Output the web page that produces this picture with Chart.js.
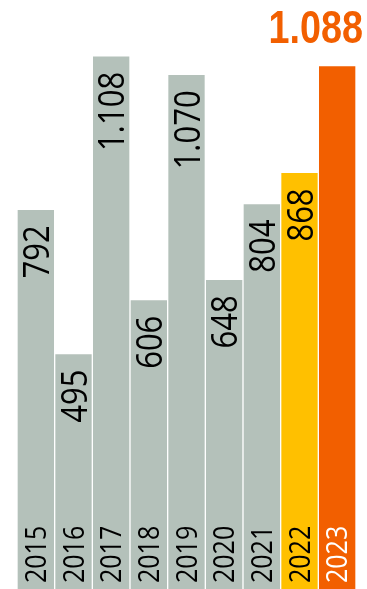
<!DOCTYPE html>
<html>
<head>
<meta charset="utf-8">
<script src="https://cdn.jsdelivr.net/npm/chart.js@4/dist/chart.umd.min.js"></script>
<style>
  html, body { margin: 0; padding: 0; background: #fff; }
  #wrap { width: 367px; height: 589px; overflow: hidden; position: relative; }
  canvas { display: block; }
</style>
</head>
<body>
<div id="wrap"><canvas id="c" width="367" height="594"></canvas></div>
<script>
const years = ["2015", "2016", "2017", "2018", "2019", "2020", "2021", "2022", "2023"];
const values = [792, 495, 1108, 606, 1070, 648, 804, 868, 1088];

const GRAY = "#B4C1BA";
const YELLOW = "#FFC000";
const ORANGE = "#F25F00";
const barColors = years.map((y, i) => i === years.length - 1 ? ORANGE : (i === years.length - 2 ? YELLOW : GRAY));

function fmt(v) {
  const s = String(v);
  return s.length > 3 ? s.slice(0, s.length - 3) + "." + s.slice(s.length - 3) : s;
}

const labelPlugin = {
  id: "labels",
  afterDatasetsDraw(chart) {
    const ctx = chart.ctx;
    const meta = chart.getDatasetMeta(0);
    const last = meta.data.length - 1;
    meta.data.forEach((bar, i) => {
      const cx = bar.x;
      // year label, rotated, at bottom inside the bar
      ctx.save();
      const ySize = 25, ySy = 1.15;
      const capY = 0.714 * ySize * ySy;
      ctx.translate(cx + capY / 2, 583);
      ctx.rotate(-Math.PI / 2);
      ctx.scale(1, ySy);
      ctx.font = ySize + "px 'Open Sans'";
      ctx.fillStyle = i === last ? "#FFFFFF" : "#000000";
      ctx.textAlign = "left";
      ctx.textBaseline = "alphabetic";
      ctx.fillText(years[i], 0, 0);
      ctx.restore();

      if (i === last) {
        // highlighted value above bar, horizontal bold
        ctx.save();
        const sx = 0.82;
        ctx.translate(bar.x + bar.width / 2 + 7, 43);
        ctx.scale(sx, 1);
        ctx.font = "bold 46px 'Liberation Sans'";
        ctx.fillStyle = ORANGE;
        ctx.textAlign = "right";
        ctx.textBaseline = "alphabetic";
        ctx.fillText(fmt(values[i]), 0, 0);
        ctx.restore();
      } else {
        // value label rotated, inside bar near top
        ctx.save();
        const vSize = 31, vSy = 1.2;
        const capV = 0.714 * vSize * vSy;
        ctx.translate(cx + capV / 2, bar.y + 16);
        ctx.rotate(-Math.PI / 2);
        ctx.scale(1, vSy);
        ctx.font = vSize + "px 'Open Sans'";
        ctx.fillStyle = "#000000";
        ctx.textAlign = "right";
        ctx.textBaseline = "alphabetic";
        ctx.fillText(fmt(values[i]), 0, 0);
        ctx.restore();
      }
    });
  }
};

new Chart(document.getElementById("c"), {
  type: "bar",
  data: {
    labels: years,
    datasets: [{
      data: values,
      backgroundColor: barColors,
      borderColor: "rgba(255,255,255,0.18)",
      borderWidth: 1,
      borderSkipped: "bottom",
      barPercentage: 1,
      categoryPercentage: 1
    }]
  },
  options: {
    responsive: false,
    animation: false,
    layout: { padding: { left: 17, right: 11, top: 0, bottom: 0 } },
    plugins: { legend: { display: false }, tooltip: { enabled: false }, title: { display: false } },
    scales: {
      x: { display: false },
      y: { display: false, min: 0, max: 1223 }
    }
  },
  plugins: [labelPlugin]
});
</script>
</body>
</html>
